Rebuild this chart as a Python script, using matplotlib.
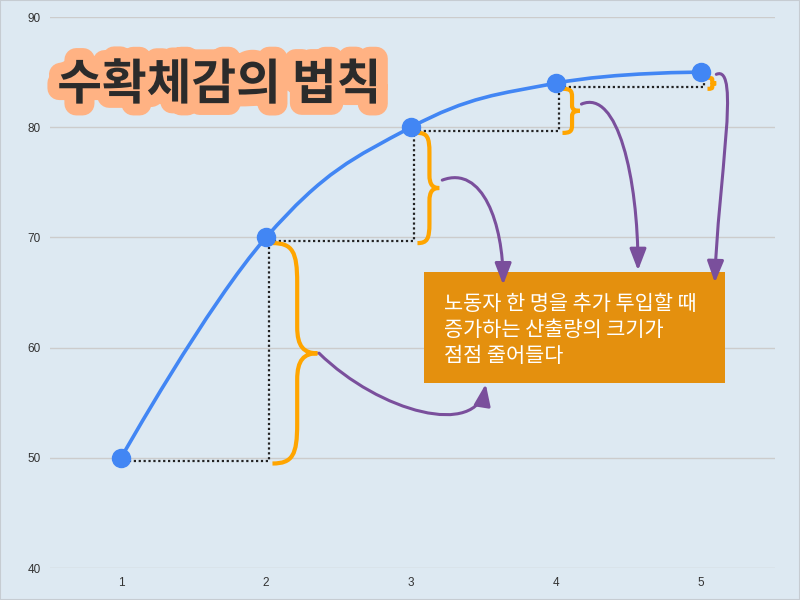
import matplotlib.pyplot as plt
import matplotlib.patheffects as pe
from matplotlib.path import Path
from matplotlib.patches import PathPatch, FancyArrowPatch, Rectangle
from matplotlib.transforms import ScaledTranslation

# data
workers = [1, 2, 3, 4, 5]
output = [50, 70, 80, 84, 85]
y_ticks = [40, 50, 60, 70, 80, 90]
title = "수확체감의 법칙"
note_lines = ["노동자 한 명을 추가 투입할 때",
              "증가하는 산출량의 크기가",
              "점점 줄어들다"]

# style
BG = "#dde9f2"
BLUE = "#4286f4"
ORANGE = "#ffa500"
PURPLE = "#7a4f9c"
BOX = "#e4900e"
brace_w = [0.31, 0.15, 0.12, 0.06]   # width of each brace in x units

plt.rcParams['font.family'] = ['Liberation Sans', 'DejaVu Sans']

fig = plt.figure(figsize=(8, 6), dpi=100, facecolor=BG)
ax = fig.add_axes([0.0625, 0.0533, 0.9063, 0.9183])
ax.set_facecolor(BG)
ax.set_xlim(0.51, 5.51)
ax.set_ylim(40, 90)
ax.set_yticks(y_ticks)
ax.set_xticks(workers)
for s in ax.spines.values():
    s.set_visible(False)
ax.grid(axis='y', color='#cccccc', lw=1)
ax.set_axisbelow(True)
ax.tick_params(length=0, labelsize=8.5, labelcolor='#333333', pad=6.5)


# highcharts style spline through the points
def spline_path(xs, ys, smooth=1.5):
    n = len(xs)
    lc = [None] * n
    rc = [None] * n
    for i in range(1, n - 1):
        d = smooth + 1
        lx = (smooth * xs[i] + xs[i - 1]) / d
        ly = (smooth * ys[i] + ys[i - 1]) / d
        rx = (smooth * xs[i] + xs[i + 1]) / d
        ry = (smooth * ys[i] + ys[i + 1]) / d
        corr = (ry - ly) * (rx - xs[i]) / (rx - lx) + ys[i] - ry
        lc[i] = (lx, ly + corr)
        rc[i] = (rx, ry + corr)
    verts = [(xs[0], ys[0])]
    codes = [Path.MOVETO]
    for i in range(1, n):
        a = rc[i - 1] if rc[i - 1] else (xs[i - 1], ys[i - 1])
        b = lc[i] if lc[i] else (xs[i], ys[i])
        verts += [a, b, (xs[i], ys[i])]
        codes += [Path.CURVE4] * 3
    return Path(verts, codes)


ax.add_patch(PathPatch(spline_path(workers, output), fc='none', ec=BLUE,
                       lw=2.6, zorder=4, capstyle='round'))
ax.plot(workers, output, 'o', color=BLUE, ms=13, zorder=5)

# dotted steps
shift = ax.transData + ScaledTranslation(2 / 72, -2.5 / 72, fig.dpi_scale_trans)
for i in range(len(workers) - 1):
    ax.plot([workers[i], workers[i + 1], workers[i + 1]],
            [output[i], output[i], output[i + 1]],
            color='#222222', lw=1.6, ls=(0, (1, 1.2)), transform=shift, zorder=3)


# curly braces
def brace(x0, y0, y1, w):
    h = y1 - y0
    P = lambda u, v: (x0 + u * w, y0 + v * h)
    verts = [P(0, 1), P(0.45, 1), P(0.55, 0.96), P(0.55, 0.82),
             P(0.55, 0.62),
             P(0.55, 0.53), P(0.7, 0.5), P(1, 0.5),
             P(0.7, 0.5), P(0.55, 0.47), P(0.55, 0.38),
             P(0.55, 0.18),
             P(0.55, 0.04), P(0.45, 0), P(0, 0)]
    codes = [Path.MOVETO] + [Path.CURVE4] * 3 + [Path.LINETO] + [Path.CURVE4] * 6 \
        + [Path.LINETO] + [Path.CURVE4] * 3
    return Path(verts, codes)


tips = []
for i in range(len(workers) - 1):
    x0 = workers[i + 1] + 0.025
    ax.add_patch(PathPatch(brace(x0, output[i] - 0.2, output[i + 1] - 0.2, brace_w[i]),
                           fc='none', ec=ORANGE, lw=3, zorder=3, transform=shift))
    tips.append((x0 + brace_w[i], (output[i] + output[i + 1]) / 2))

# note box
bx, by, bw, bh = 3.09, 56.8, 2.076, 10.07
ax.add_patch(Rectangle((bx, by), bw, bh, fc=BOX, ec='none', zorder=6))
for k, line in enumerate(note_lines):
    ax.text(bx + 0.14, by + bh - 2.95 - k * 2.32, line, color='white',
            fontsize=15, va='center', ha='left', zorder=7,
            family=['Noto Sans CJK KR', 'DejaVu Sans'])

# arrows from braces to box (dx, dy control offsets)
arrows = [
    [(0.03, -0.5), (0.45, -5.9), (1.12, -8.2), (1.18, -3.3)],
    [(0.04, 0.2), (0.32, 1.6), (0.46, -3.8), (0.46, -9.3)],
    [(0.03, 0.1), (0.28, 1.5), (0.42, -6.6), (0.42, -15.0)],
    [(0.02, 0.3), (0.19, 1.3), (0.03, -9.6), (0.01, -18.6)],
]
for (tx, ty), ctl in zip(tips, arrows):
    pts = [(tx + dx, ty + dy) for dx, dy in ctl]
    path = Path(pts, [Path.MOVETO, Path.CURVE4, Path.CURVE4, Path.CURVE4])
    ax.add_patch(FancyArrowPatch(path=path, arrowstyle='-|>,head_length=1.3,head_width=0.5',
                                 mutation_scale=10, color=PURPLE, lw=2.2, zorder=8,
                                 transform=ax.transData))

# title with glow outline
ax.text(0.01, 0.877, title, transform=ax.transAxes, fontsize=35, fontweight='black',
        color='#2b2b2b', ha='left', va='center', zorder=9,
        family=['Noto Sans CJK KR', 'DejaVu Sans'],
        path_effects=[pe.Stroke(linewidth=17, foreground='#ffb283', joinstyle='round'),
                      pe.Normal()])

fig.patches.append(Rectangle((0, 0), 1, 1, transform=fig.transFigure, fc='none',
                             ec='#c6ccd2', lw=1.5))
fig.savefig('out.png', dpi=100, facecolor=BG)
